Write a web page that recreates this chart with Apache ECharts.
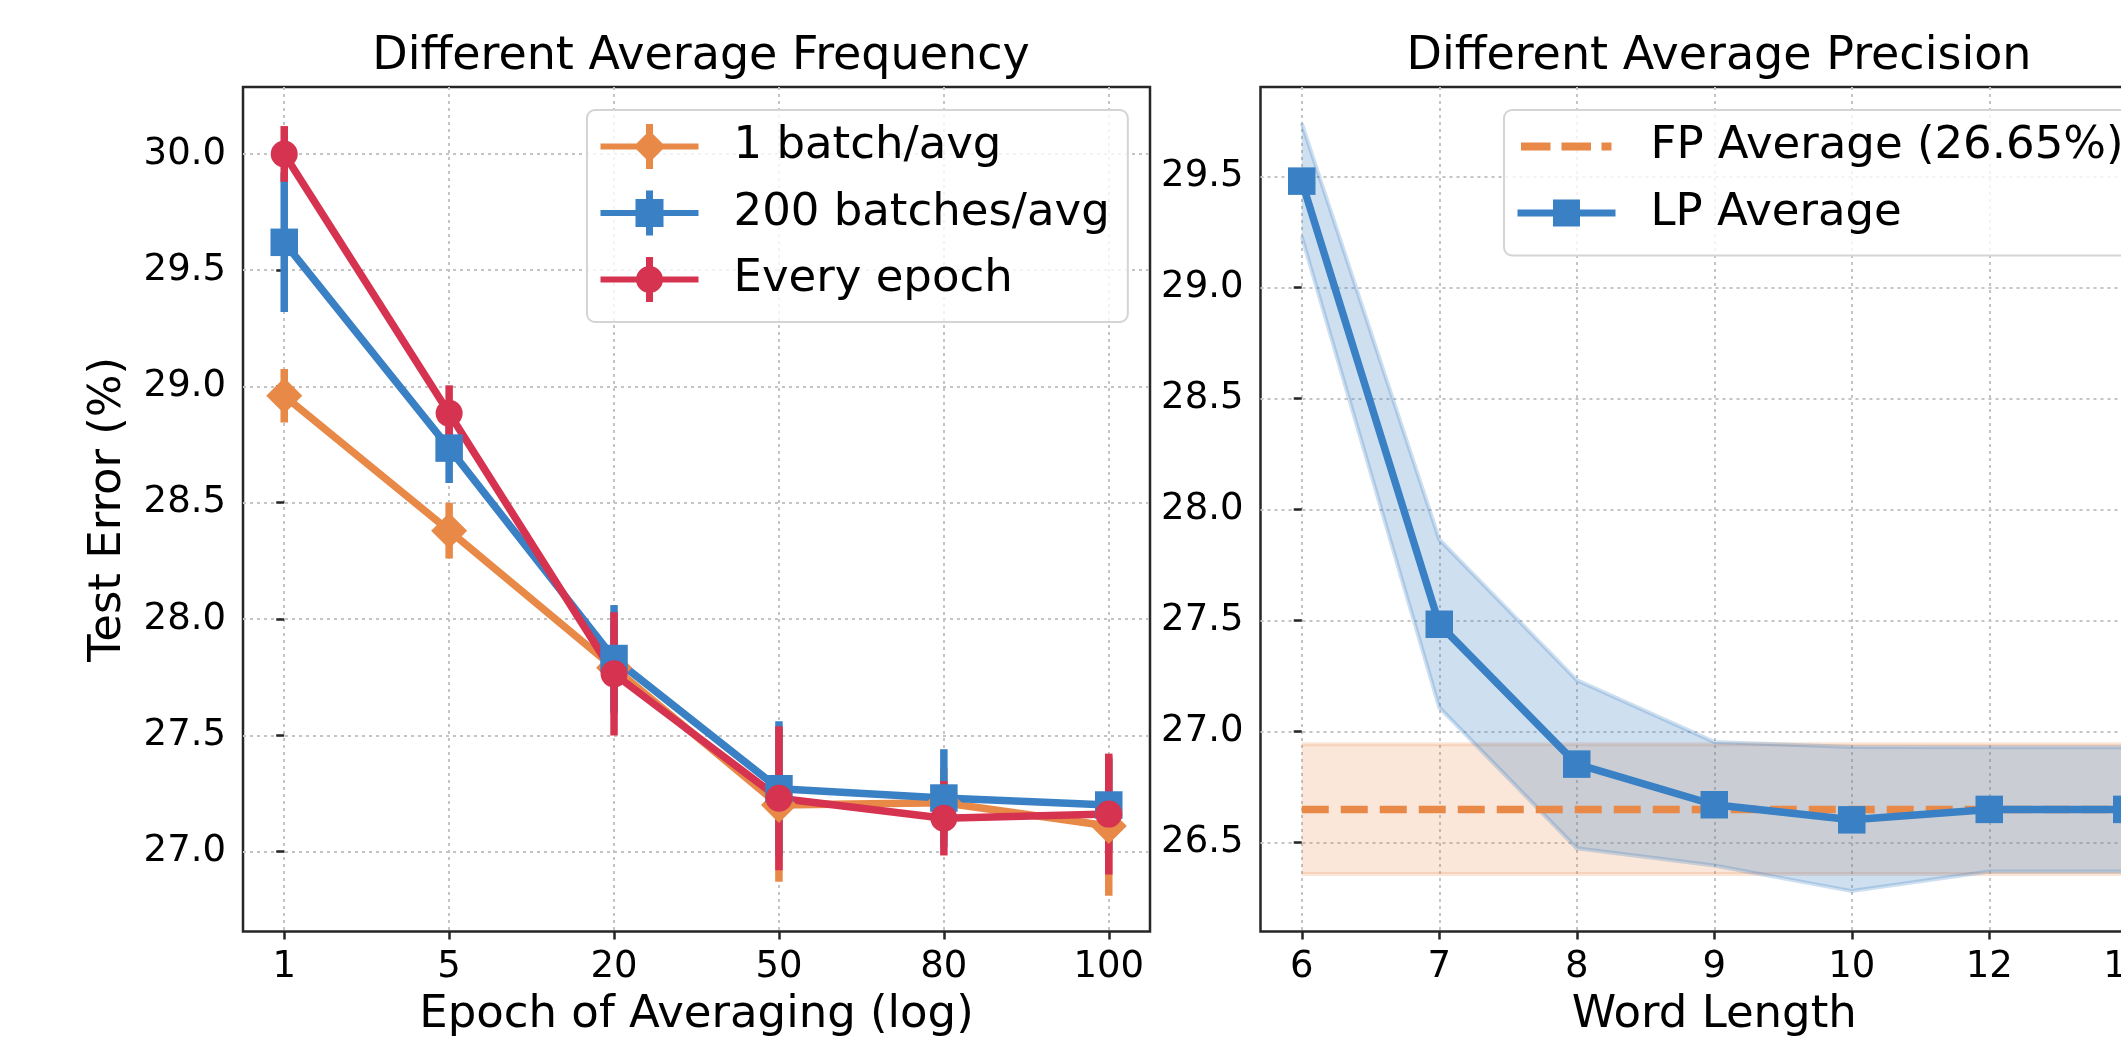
<!DOCTYPE html>
<html>
<head>
<meta charset="utf-8">
<title>Different Average Frequency / Precision</title>
<script src="https://cdn.jsdelivr.net/npm/echarts@6/dist/echarts.min.js"></script>
<style>
  html, body { margin: 0; padding: 0; background: #fff; }
  #chart { width: 2121px; height: 1038px; }
</style>
</head>
<body>
<div id="chart"></div>
<script>
// left panel: how often the weights are averaged
const epochs = ['1', '5', '20', '50', '80', '100'];
const batch1Mean = [28.96, 28.38, 27.79, 27.20, 27.21, 27.11];
const batch1Err = [0.115, 0.12, 0.20, 0.33, 0.15, 0.30];
const batch200Mean = [29.62, 28.735, 27.83, 27.27, 27.23, 27.20];
const batch200Err = [0.30, 0.15, 0.23, 0.29, 0.21, 0.20];
const epochMean = [30.0, 28.885, 27.764, 27.229, 27.143, 27.161];
const epochErr = [0.12, 0.12, 0.265, 0.31, 0.16, 0.26];
const leftTicks = [27.0, 27.5, 28.0, 28.5, 29.0, 29.5, 30.0];

// right panel: word length of the low precision average
const wordLengths = ['6', '7', '8', '9', '10', '12', '14'];
const lpMean = [29.48, 27.484, 26.854, 26.671, 26.603, 26.65, 26.65];
const lpUpper = [29.74, 27.866, 27.232, 26.954, 26.931, 26.93, 26.93];
const lpLower = [29.23, 27.109, 26.475, 26.397, 26.282, 26.37, 26.37];
const fpMean = [26.65, 26.65, 26.65, 26.65, 26.65, 26.65, 26.65];
const fpUpper = [26.944, 26.944, 26.944, 26.944, 26.944, 26.944, 26.944];
const fpLower = [26.359, 26.359, 26.359, 26.359, 26.359, 26.359, 26.359];
const rightTicks = [26.5, 27.0, 27.5, 28.0, 28.5, 29.0, 29.5];

const FONT = 'DejaVu Sans';
const ORANGE = '#E88948';
const BLUE = '#3A80C4';
const RED = '#D63350';
const SPINE = '#262626';

const myChart = echarts.init(document.getElementById('chart'));

function idx(arr) {
  return arr.map((_, i) => i);
}

function errorBarRenderer(color) {
  return function (params, api) {
    const lo = api.coord([api.value(0), api.value(1)]);
    const hi = api.coord([api.value(0), api.value(2)]);
    return {
      type: 'line',
      shape: { x1: lo[0], y1: lo[1], x2: hi[0], y2: hi[1] },
      style: { stroke: color, lineWidth: 7.5 }
    };
  };
}

function bandRenderer(upper, lower, fill, edge) {
  return function (params, api) {
    if (params.dataIndex !== 0) return null;
    const top = upper.map((v, i) => api.coord([i, v]));
    const bottom = lower.map((v, i) => api.coord([i, v]));
    return {
      type: 'group',
      children: [
        { type: 'polygon', shape: { points: top.concat(bottom.slice().reverse()) }, style: { fill: fill } },
        { type: 'polyline', shape: { points: top }, style: { stroke: edge, lineWidth: 4, fill: 'none' } },
        { type: 'polyline', shape: { points: bottom }, style: { stroke: edge, lineWidth: 4, fill: 'none' } }
      ]
    };
  };
}

function errSeries(name, mean, err, color) {
  return {
    name: name + ' err',
    type: 'custom',
    xAxisIndex: 0,
    yAxisIndex: 0,
    z: 2,
    silent: true,
    renderItem: errorBarRenderer(color),
    data: mean.map((m, i) => [i, m - err[i], m + err[i]])
  };
}

function lineSeries(name, mean, color, symbol, size, axis) {
  return {
    name: name,
    type: 'line',
    xAxisIndex: axis,
    yAxisIndex: axis,
    z: 3,
    symbol: symbol,
    symbolSize: size,
    showSymbol: true,
    lineStyle: { color: color, width: 7.5 },
    itemStyle: { color: color, borderWidth: 0 },
    emphasis: { disabled: true },
    data: mean.map((m, i) => [i, m])
  };
}

function xAxis(gridIndex, min, max, labels, name) {
  const ticks = idx(labels);
  return {
    type: 'value',
    gridIndex: gridIndex,
    min: min,
    max: max,
    name: name,
    nameLocation: 'middle',
    nameGap: 61,
    nameTextStyle: { color: '#000', fontFamily: FONT, fontSize: 45 },
    axisLine: { show: false },
    axisTick: { show: true, length: 8, customValues: ticks, lineStyle: { color: SPINE, width: 2.5 } },
    axisLabel: {
      customValues: ticks,
      margin: 17,
      color: '#000',
      fontFamily: FONT,
      fontSize: 37,
      formatter: (v) => labels[Math.round(v)]
    },
    splitLine: { show: true, lineStyle: { color: '#c4c4c4', width: 2, type: [3, 4] } }
  };
}

function yAxis(gridIndex, min, max, ticks, name) {
  return {
    type: 'value',
    gridIndex: gridIndex,
    min: min,
    max: max,
    name: name,
    nameLocation: 'middle',
    nameGap: 112,
    nameTextStyle: { color: '#000', fontFamily: FONT, fontSize: 45 },
    axisLine: { show: false },
    axisTick: { show: true, length: 8, customValues: ticks, lineStyle: { color: SPINE, width: 2.5 } },
    axisLabel: {
      customValues: ticks,
      margin: 17,
      color: '#000',
      fontFamily: FONT,
      fontSize: 37,
      formatter: (v) => v.toFixed(1)
    },
    splitLine: { show: true, lineStyle: { color: '#c4c4c4', width: 2, type: [3, 4] } }
  };
}

// legend handles, drawn in a 98 x 45 box (corner points keep the box size)
const CORNERS = 'M0 0 Z M98 45 Z ';
const HLINE = 'M0 19.5 H98 V25.5 H0 Z ';
const VBAR = 'M45.5 0 H52.5 V45 H45.5 Z ';
const iconDiamond = 'path://' + CORNERS + HLINE + VBAR + 'M49 6.5 L65 22.5 L49 38.5 L33 22.5 Z';
const iconSquare = 'path://' + CORNERS + HLINE + VBAR + 'M35 8.5 H63 V36.5 H35 Z';
const iconCircle = 'path://' + CORNERS + HLINE + VBAR +
  'M35.5 22.5 A13.5 13.5 0 1 1 62.5 22.5 A13.5 13.5 0 1 1 35.5 22.5 Z';
const iconDash = 'path://' + CORNERS +
  'M3.5 18.5 H33 V26.5 H3.5 Z M44 18.5 H73.5 V26.5 H44 Z M84 18.5 H94 V26.5 H84 Z';
const iconLP = 'path://' + CORNERS + 'M0 19 H98 V26 H0 Z M35.5 9 H62.5 V36 H35.5 Z';

const legendBase = {
  orient: 'vertical',
  top: 110,
  padding: [14, 18, 20, 13.5],
  itemGap: 21.5,
  itemWidth: 98,
  itemHeight: 45,
  selectedMode: false,
  backgroundColor: 'rgba(255,255,255,0.8)',
  borderColor: '#d4d4d4',
  borderWidth: 2,
  borderRadius: 8,
  itemStyle: { borderWidth: 0 },
  textStyle: { color: '#000', fontFamily: FONT, fontSize: 45, padding: [0, 0, 0, 30] }
};

const titleStyle = { color: '#000', fontFamily: FONT, fontSize: 46, fontWeight: 'normal' };

const option = {
  animation: false,
  backgroundColor: '#fff',
  title: [
    { text: 'Different Average Frequency', left: 696, top: 29, textAlign: 'center', textStyle: titleStyle },
    { text: 'Different Average Precision', left: 1714, top: 29, textAlign: 'center', textStyle: titleStyle }
  ],
  legend: [
    Object.assign({}, legendBase, {
      left: 587,
      data: [
        { name: '1 batch/avg', icon: iconDiamond },
        { name: '200 batches/avg', icon: iconSquare },
        { name: 'Every epoch', icon: iconCircle }
      ]
    }),
    Object.assign({}, legendBase, {
      left: 1504,
      data: [
        { name: 'FP Average (26.65%)', icon: iconDash },
        { name: 'LP Average', icon: iconLP }
      ]
    })
  ],
  grid: [
    {
      left: 243, top: 87, width: 907, height: 844.5, outerBoundsMode: 'none',
      show: true, borderColor: SPINE, borderWidth: 2.5, backgroundColor: 'transparent'
    },
    {
      left: 1260.5, top: 87, width: 907.5, height: 844.5, outerBoundsMode: 'none',
      show: true, borderColor: SPINE, borderWidth: 2.5, backgroundColor: 'transparent'
    }
  ],
  xAxis: [
    xAxis(0, -0.25, 5.25, epochs, 'Epoch of Averaging (log)'),
    xAxis(1, -0.3, 6.3, wordLengths, 'Word Length')
  ],
  yAxis: [
    yAxis(0, 26.656, 30.288, leftTicks, 'Test Error (%)'),
    yAxis(1, 26.1, 29.904, rightTicks, '')
  ],
  series: [
    errSeries('1 batch/avg', batch1Mean, batch1Err, ORANGE),
    errSeries('200 batches/avg', batch200Mean, batch200Err, BLUE),
    errSeries('Every epoch', epochMean, epochErr, RED),
    lineSeries('1 batch/avg', batch1Mean, ORANGE, 'diamond', 36, 0),
    lineSeries('200 batches/avg', batch200Mean, BLUE, 'rect', 27.5, 0),
    lineSeries('Every epoch', epochMean, RED, 'circle', 27, 0),
    {
      name: 'FP band',
      type: 'custom',
      xAxisIndex: 1,
      yAxisIndex: 1,
      z: 1,
      silent: true,
      renderItem: bandRenderer(fpUpper, fpLower, 'rgba(232,137,72,0.2)', 'rgba(232,137,72,0.22)'),
      data: fpMean.map((m, i) => [i, fpLower[i], fpUpper[i]])
    },
    {
      name: 'LP band',
      type: 'custom',
      xAxisIndex: 1,
      yAxisIndex: 1,
      z: 1,
      silent: true,
      renderItem: bandRenderer(lpUpper, lpLower, 'rgba(58,128,196,0.25)', 'rgba(58,128,196,0.25)'),
      data: lpMean.map((m, i) => [i, lpLower[i], lpUpper[i]])
    },
    {
      name: 'FP Average (26.65%)',
      type: 'line',
      xAxisIndex: 1,
      yAxisIndex: 1,
      z: 2,
      symbol: 'none',
      lineStyle: { color: ORANGE, width: 7.5, type: [27, 12] },
      itemStyle: { color: ORANGE },
      emphasis: { disabled: true },
      data: fpMean.map((m, i) => [i, m])
    },
    lineSeries('LP Average', lpMean, BLUE, 'rect', 27.5, 1)
  ]
};

myChart.setOption(option);
</script>
</body>
</html>
